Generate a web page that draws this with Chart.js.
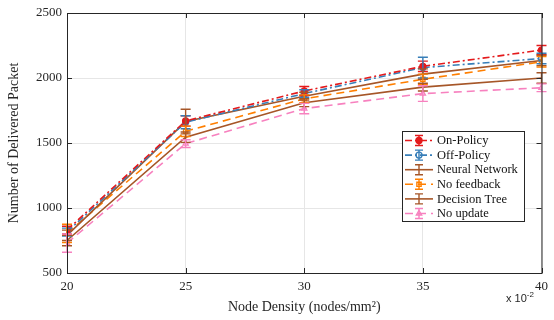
<!DOCTYPE html>
<html>
<head>
<meta charset="utf-8">
<script src="https://cdn.jsdelivr.net/npm/chart.js@4/dist/chart.umd.min.js"></script>
<style>
  html, body { margin: 0; padding: 0; background: #fff; }
  #wrap { position: relative; width: 554px; height: 320px; }
  #expo { position: absolute; left: 506px; top: 290px; font: 11px "Liberation Sans", Arial, sans-serif; color: #262626; }
  #expo sup { font-size: 8px; }
</style>
</head>
<body>
<div id="wrap">
  <canvas id="deliveryChart" width="554" height="320"></canvas>
  <div id="expo">x 10<sup>-2</sup></div>
</div>
<script>
var density = [20, 25, 30, 35, 40];
var yTicks = [500, 1000, 1500, 2000, 2500];

var onPolicy = [830, 1670, 1900, 2090, 2215];
var onPolicyErr = [30, 40, 35, 40, 35];
var offPolicy = [815, 1660, 1880, 2080, 2150];
var offPolicyErr = [30, 50, 30, 80, 40];
var neuralNet = [790, 1665, 1860, 2030, 2135];
var neuralNetErr = [40, 95, 30, 40, 40];
var noFeedback = [805, 1590, 1840, 1990, 2125];
var noFeedbackErr = [70, 40, 30, 40, 40];
var decisionTree = [750, 1545, 1810, 1930, 2000];
var decisionTreeErr = [40, 40, 30, 30, 40];
var noUpdate = [730, 1495, 1765, 1880, 1925];
var noUpdateErr = [70, 30, 40, 60, 30];

var serif = '"Liberation Serif", "Times New Roman", serif';

function pts(vals) {
  return vals.map(function (v, i) { return { x: density[i], y: v }; });
}

function series(label, vals, errs, color, dash, style, fill) {
  return {
    label: label,
    data: pts(vals),
    errors: errs,
    borderColor: color,
    backgroundColor: fill ? color : 'rgba(255,255,255,0)',
    borderWidth: 1.6,
    borderDash: dash,
    pointStyle: style,
    pointRadius: style ? 3 : 0,
    pointBorderWidth: 1.3,
    pointBorderColor: color,
    pointBackgroundColor: fill ? color : 'rgba(255,255,255,0)',
    tension: 0,
    fill: false
  };
}

var datasets = [
  series('On-Policy', onPolicy, onPolicyErr, '#e41a1c', [7, 3, 2, 3], 'circle', true),
  series('Off-Policy', offPolicy, offPolicyErr, '#377eb8', [7, 3, 2, 3], 'circle', false),
  series('Neural Network', neuralNet, neuralNetErr, '#a65628', [], false, false),
  series('No feedback', noFeedback, noFeedbackErr, '#ff7f00', [8, 5], 'rect', false),
  series('Decision Tree', decisionTree, decisionTreeErr, '#a65628', [], false, false),
  series('No update', noUpdate, noUpdateErr, '#f781bf', [8, 5], 'triangle', false)
];

// error bars, box frame and the legend box
var extras = {
  id: 'extras',
  afterDatasetsDraw: function (chart) {
    var ctx = chart.ctx, xs = chart.scales.x, ys = chart.scales.y;
    ctx.save();
    chart.data.datasets.forEach(function (ds) {
      ctx.strokeStyle = ds.borderColor;
      ctx.lineWidth = 1.4;
      ctx.setLineDash([]);
      ds.data.forEach(function (p, i) {
        var px = xs.getPixelForValue(p.x);
        var top = ys.getPixelForValue(p.y + ds.errors[i]);
        var bot = ys.getPixelForValue(p.y - ds.errors[i]);
        ctx.beginPath();
        ctx.moveTo(px, top); ctx.lineTo(px, bot);
        ctx.moveTo(px - 5, top); ctx.lineTo(px + 5, top);
        ctx.moveTo(px - 5, bot); ctx.lineTo(px + 5, bot);
        ctx.stroke();
      });
    });
    ctx.restore();
  },
  afterDraw: function (chart) {
    var ctx = chart.ctx, a = chart.chartArea;
    ctx.save();
    ctx.strokeStyle = '#262626';
    ctx.lineWidth = 1;
    ctx.strokeRect(a.left + 0.5, a.top + 0.5, a.right - a.left, a.bottom - a.top);
    // inward tick marks
    var xs = chart.scales.x, ys = chart.scales.y;
    ctx.beginPath();
    density.forEach(function (d) {
      var px = Math.round(xs.getPixelForValue(d)) + 0.5;
      ctx.moveTo(px, a.bottom); ctx.lineTo(px, a.bottom - 5);
      ctx.moveTo(px, a.top); ctx.lineTo(px, a.top + 5);
    });
    yTicks.forEach(function (t) {
      var py = Math.round(ys.getPixelForValue(t)) + 0.5;
      ctx.moveTo(a.left, py); ctx.lineTo(a.left + 5, py);
      ctx.moveTo(a.right, py); ctx.lineTo(a.right - 5, py);
    });
    ctx.stroke();

    // legend
    var bx = 402, by = 131, bw = 122, bh = 90, rowH = 14.6;
    ctx.fillStyle = '#fff';
    ctx.fillRect(bx, by, bw, bh);
    ctx.strokeRect(bx + 0.5, by + 0.5, bw, bh);
    ctx.font = '12.5px ' + serif;
    ctx.textBaseline = 'middle';
    chart.data.datasets.forEach(function (ds, i) {
      var y = by + 9.5 + i * rowH;
      ctx.strokeStyle = ds.borderColor;
      ctx.lineWidth = 1.6;
      ctx.setLineDash(ds.borderDash);
      ctx.beginPath(); ctx.moveTo(405, y); ctx.lineTo(433, y); ctx.stroke();
      ctx.setLineDash([]);
      ctx.lineWidth = 1.4;
      ctx.beginPath();
      ctx.moveTo(419, y - 5); ctx.lineTo(419, y + 5);
      ctx.moveTo(415, y - 5); ctx.lineTo(423, y - 5);
      ctx.moveTo(415, y + 5); ctx.lineTo(423, y + 5);
      ctx.stroke();
      if (ds.pointStyle) {
        ctx.fillStyle = ds.pointBackgroundColor;
        Chart.helpers.drawPoint(ctx, {
          pointStyle: ds.pointStyle, radius: 3, borderWidth: 1.3
        }, 419, y);
      }
      ctx.fillStyle = '#111';
      ctx.fillText(ds.label, 437, y + 0.5);
    });
    ctx.restore();
  }
};

new Chart(document.getElementById('deliveryChart').getContext('2d'), {
  type: 'line',
  data: { datasets: datasets },
  plugins: [extras],
  options: {
    responsive: false,
    animation: false,
    layout: { padding: { top: 13, right: 11, left: 2, bottom: 0 } },
    plugins: {
      legend: { display: false },
      tooltip: { enabled: false }
    },
    scales: {
      x: {
        type: 'linear',
        min: 20, max: 40,
        afterBuildTicks: function (s) { s.ticks = density.map(function (v) { return { value: v }; }); },
        afterFit: function (s) { s.height = 47; },
        grid: { color: '#e6e6e6', drawTicks: false },
        border: { color: '#262626' },
        ticks: { color: '#262626', font: { family: serif, size: 13 }, padding: 6, maxRotation: 0,
                 callback: function (v) { return String(v); } },
        title: {
          display: true,
          text: 'Node Density (nodes/mm²)',
          color: '#262626',
          font: { family: serif, size: 14 },
          padding: { top: 4 }
        }
      },
      y: {
        min: 500, max: 2500,
        afterBuildTicks: function (s) { s.ticks = yTicks.map(function (v) { return { value: v }; }); },
        afterFit: function (s) { s.width = 65; },
        grid: { color: '#e6e6e6', drawTicks: false },
        border: { color: '#262626' },
        ticks: { color: '#262626', font: { family: serif, size: 13 }, padding: 5,
                 callback: function (v) { return String(v); } },
        title: {
          display: true,
          text: 'Number of Delivered Packet',
          color: '#262626',
          font: { family: serif, size: 14 },
          padding: { bottom: 4 }
        }
      }
    }
  }
});
</script>
</body>
</html>
